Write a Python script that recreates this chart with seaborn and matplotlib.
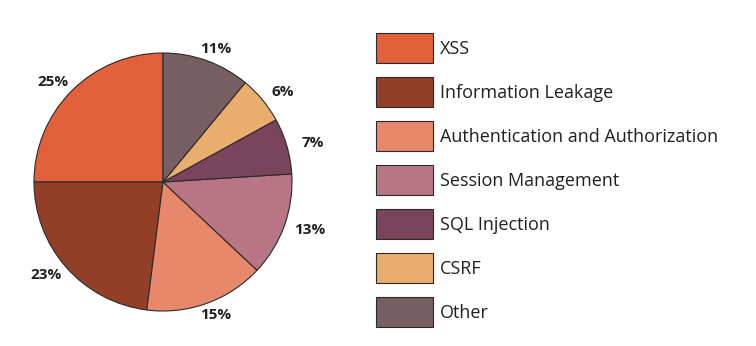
import matplotlib
matplotlib.use("Agg")
import matplotlib.pyplot as plt
import seaborn as sns

categories = ["XSS", "Information Leakage", "Authentication and Authorization",
              "Session Management", "SQL Injection", "CSRF", "Other"]
shares = [25, 23, 15, 13, 7, 6, 11]
colors = ["#E2603A", "#933F28", "#E8886B", "#B77586", "#7A445C", "#E9AE6D", "#775E62"]

sns.set_theme(style="white")
plt.rcParams["font.family"] = ["Open Sans", "DejaVu Sans"]

W, H = 756, 346
fig = plt.figure(figsize=(W / 100, H / 100), dpi=100)
cx, cy, r = 163, 182, 129
ax = fig.add_axes([(cx - r) / W, (H - cy - r) / H, 2 * r / W, 2 * r / H])

wedges, texts = ax.pie(
    shares, colors=colors, startangle=90, counterclock=True,
    labels=[f"{v}%" for v in shares], labeldistance=1.15,
    wedgeprops=dict(edgecolor="#2a2a2a", linewidth=0.8),
    textprops=dict(fontsize=11, fontweight="bold", color="#231f20"),
)
for t in texts:
    t.set_ha("center")
    t.set_va("center")
    x, y = t.get_position()
    t.set_position((x * 1.05, y * 0.95))
ax.set_xlim(-1, 1)
ax.set_ylim(-1, 1)
ax.set_aspect("equal")
ax.axis("off")

fs = 13
fpx = fs * 100 / 72
hh = (30 / fpx - 0.245) / 0.65
leg = fig.legend(
    wedges, categories, loc="upper left",
    bbox_to_anchor=(376 / W, 1 - 33 / H), bbox_transform=fig.transFigure,
    frameon=False, fontsize=fs, borderpad=0, borderaxespad=0,
    handlelength=57 / fpx, handleheight=hh,
    handletextpad=7 / fpx, labelspacing=14 / fpx,
)
for t in leg.get_texts():
    t.set_color("#231f20")

fig.savefig("out.png", dpi=100)
